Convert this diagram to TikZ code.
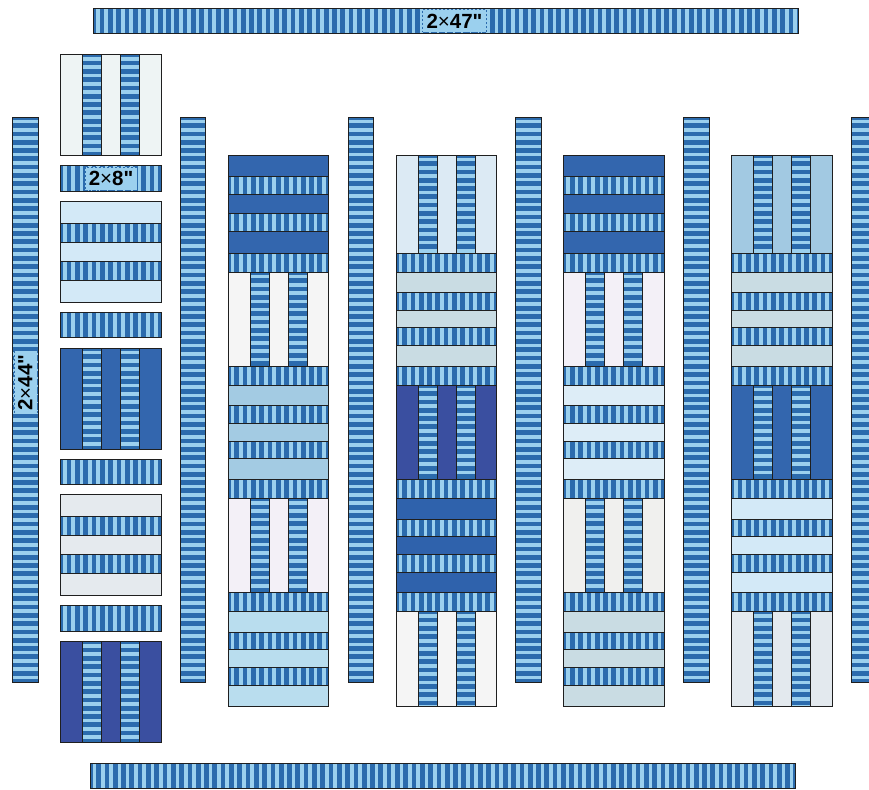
\documentclass[tikz,border=0pt]{standalone}
\usepackage{fontspec}
\setmainfont{Liberation Sans}[Ligatures=TeXOff]
\definecolor{dk}{HTML}{2B6BAD}
\definecolor{lt}{HTML}{9BD0EE}
\definecolor{cA}{HTML}{EEF4F4}
\definecolor{cB}{HTML}{D3E9F7}
\definecolor{cC}{HTML}{3366AE}
\definecolor{cD}{HTML}{E5EAEE}
\definecolor{cE}{HTML}{3A4FA0}
\definecolor{cF}{HTML}{F5F5F5}
\definecolor{cG}{HTML}{A3CBE3}
\definecolor{cH}{HTML}{F3F0F7}
\definecolor{cI}{HTML}{B9DDEE}
\definecolor{cJ}{HTML}{DCEAF4}
\definecolor{cK}{HTML}{C9DCE3}
\definecolor{cL}{HTML}{2F62AC}
\definecolor{cM}{HTML}{DDEDF7}
\definecolor{cN}{HTML}{F0F0EE}
\definecolor{cO}{HTML}{A2C9E2}
\definecolor{cP}{HTML}{E3E9EE}
\tikzset{
  edge/.style={draw=black!88, line width=0.9pt},
  lab/.style={fill=lt, draw=dk, dash pattern=on 2pt off 2pt, line width=0.5pt,
    inner xsep=4pt, inner ysep=0pt, minimum height=23pt,
    font=\fontsize{20.5}{20.5}\selectfont\bfseries}
}
% strip with upright stripes (lying strip)
\newcommand\HS[4]{%
  \begin{scope}
    \clip (#1,#2) rectangle (#3,#4);
    \fill[fill=dk] (#1,#2) rectangle (#3,#4);
    \pgfmathtruncatemacro\nn{((#3)-(#1))/8.3}
    \foreach \i in {0,...,\nn}{\fill[fill=lt] ({#1+2.6+8.3*\i},#2) rectangle ({#1+6.2+8.3*\i},#4);}
  \end{scope}
  \draw[edge] (#1,#2) rectangle (#3,#4);}
% strip with lying stripes (upright strip)
\newcommand\VS[4]{%
  \begin{scope}
    \clip (#1,#2) rectangle (#3,#4);
    \fill[fill=dk] (#1,#2) rectangle (#3,#4);
    \pgfmathtruncatemacro\nn{((#4)-(#2))/8.3}
    \foreach \i in {0,...,\nn}{\fill[fill=lt] (#1,{#2+2.6+8.3*\i}) rectangle (#3,{#2+6.2+8.3*\i});}
  \end{scope}
  \draw[edge] (#1,#2) rectangle (#3,#4);}
% block of upright strips
\newcommand\VB[4]{%
  \fill[fill=#4] (#1,#2) rectangle ({#1+100.5},#3);
  \VS{#1+22}{#2}{#1+41}{#3}
  \VS{#1+60}{#2}{#1+79}{#3}
  \draw[edge] (#1,#2) rectangle ({#1+22},#3) ({#1+41},#2) rectangle ({#1+60},#3) ({#1+79},#2) rectangle ({#1+100.5},#3);}
% block of lying strips
\newcommand\HB[4]{%
  \pgfmathsetmacro\ya{#2+0.218*((#3)-(#2))}
  \pgfmathsetmacro\yb{#2+0.406*((#3)-(#2))}
  \pgfmathsetmacro\yc{#2+0.594*((#3)-(#2))}
  \pgfmathsetmacro\yd{#2+0.782*((#3)-(#2))}
  \fill[fill=#4] (#1,#2) rectangle ({#1+100.5},#3);
  \HS{#1}{\ya}{#1+100.5}{\yb}
  \HS{#1}{\yc}{#1+100.5}{\yd}
  \draw[edge] (#1,#2) rectangle ({#1+100.5},\ya) (#1,\yb) rectangle ({#1+100.5},\yc) (#1,\yd) rectangle ({#1+100.5},#3);}
\begin{document}
\begin{tikzpicture}[x=1pt,y=-1pt]
\useasboundingbox (0,0) rectangle (869,789);
\clip (0,0) rectangle (869,789);
% long strips
\HS{93.5}{8.5}{798}{33}
\HS{90}{763}{795}{788}
\foreach \k in {0,...,5}{\VS{12.5+167.75*\k}{117}{38+167.75*\k}{682}}
% column 1
\VB{60.5}{54.5}{155.5}{cA}
\HS{60.5}{165.5}{161}{191}
\HB{60.5}{201.25}{302.25}{cB}
\HS{60.5}{312.25}{161}{337.75}
\VB{60.5}{348}{449}{cC}
\HS{60.5}{459}{161}{484.5}
\HB{60.5}{494.75}{595.75}{cD}
\HS{60.5}{605.75}{161}{631.25}
\VB{60.5}{641.5}{742.5}{cE}
% sashes in columns 2-5
\foreach \x in {228.25,396,563.75,731.5}{
  \HS{\x}{253}{\x+100.5}{272}
  \HS{\x}{366}{\x+100.5}{385}
  \HS{\x}{479.5}{\x+100.5}{498.5}
  \HS{\x}{592.5}{\x+100.5}{611.5}
}
% column 2
\HB{228.25}{155}{253}{cC}
\VB{228.25}{272}{366}{cF}
\HB{228.25}{385}{479.5}{cG}
\VB{228.25}{498.5}{592.5}{cH}
\HB{228.25}{611.5}{706}{cI}
% column 3
\VB{396}{155}{253}{cJ}
\HB{396}{272}{366}{cK}
\VB{396}{385}{479.5}{cE}
\HB{396}{498.5}{592.5}{cL}
\VB{396}{611.5}{706}{cF}
% column 4
\HB{563.75}{155}{253}{cC}
\VB{563.75}{272}{366}{cH}
\HB{563.75}{385}{479.5}{cM}
\VB{563.75}{498.5}{592.5}{cN}
\HB{563.75}{611.5}{706}{cK}
% column 5
\VB{731.5}{155}{253}{cO}
\HB{731.5}{272}{366}{cK}
\VB{731.5}{385}{479.5}{cC}
\HB{731.5}{498.5}{592.5}{cB}
\VB{731.5}{611.5}{706}{cP}
% labels
\node[lab] (l47) at (454.5,21) {2{\mdseries ×}47"};
\node[lab] (l8) at (111,178.5) {2{\mdseries ×}8"};
\node[lab, rotate=90] (l44) at (25.25,382.5) {2{\mdseries ×}44"};
\end{tikzpicture}
\end{document}
